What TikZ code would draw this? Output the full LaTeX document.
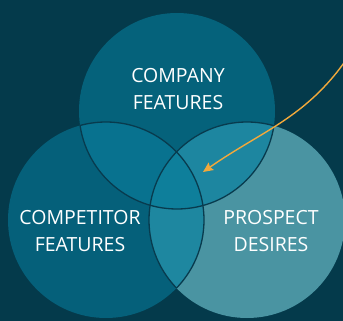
\documentclass[tikz,border=0pt]{standalone}
\usepackage{fontspec}
\setmainfont{Open Sans}
\usetikzlibrary{arrows.meta}

\definecolor{bgcol}{HTML}{043A4B}
\definecolor{compcol}{HTML}{05627B}
\definecolor{rivalcol}{HTML}{05607A}
\definecolor{prospcol}{HTML}{4A94A2}
\definecolor{comprival}{HTML}{08728F}
\definecolor{compprosp}{HTML}{1D86A0}
\definecolor{rivalprosp}{HTML}{1E87A0}
\definecolor{allthree}{HTML}{0E7F9B}
\definecolor{rimcol}{HTML}{083B4E}
\definecolor{arrowcol}{HTML}{F2A93B}

\begin{document}
\begin{tikzpicture}[x=1pt, y=-1pt,
    label/.style={text=white, font=\fontsize{19.5}{26.5}\selectfont, align=center},
    rim/.style={draw=rimcol, line width=1.3pt}]
  % Background
  \fill[bgcol] (0,0) rectangle (343,321);
  \useasboundingbox (0,0) rectangle (343,321);

  % Circle centres
  \coordinate (comp) at (177,111);
  \coordinate (rival) at (106,220);
  \coordinate (prosp) at (247,220);

  % Circles
  \fill[compcol] (comp) circle (98);
  \fill[rivalcol] (rival) circle (98);
  \fill[prospcol] (prosp) circle (98);

  % Overlaps
  \begin{scope}
    \clip (comp) circle (98);
    \fill[comprival] (rival) circle (98);
    \fill[compprosp] (prosp) circle (98);
  \end{scope}
  \begin{scope}
    \clip (rival) circle (98);
    \fill[rivalprosp] (prosp) circle (98);
    \clip (prosp) circle (98);
    \fill[allthree] (comp) circle (98);
  \end{scope}

  % Rims, only where circles overlap
  \begin{scope}
    \clip (rival) circle (98) (prosp) circle (98);
    \draw[rim] (comp) circle (98);
  \end{scope}
  \begin{scope}
    \clip (comp) circle (98) (prosp) circle (98);
    \draw[rim] (rival) circle (98);
  \end{scope}
  \begin{scope}
    \clip (comp) circle (98) (rival) circle (98);
    \draw[rim] (prosp) circle (98);
  \end{scope}

  % Labels
  \node[label] (complabel) at (178,89) {COMPANY\\FEATURES};
  \node[label] (rivallabel) at (80,231) {COMPETITOR\\FEATURES};
  \node[label] (prosplabel) at (271,231) {PROSPECT\\DESIRES};

  % Pointer
  \coordinate (arrowstart) at (346,60);
  \coordinate (arrowtip) at (203,172);
  \draw[arrowcol, line width=1.4pt, -{Stealth[length=10pt, width=9pt, inset=1.5pt]}]
    (arrowstart) to[out=235, in=35] (arrowtip);
\end{tikzpicture}
\end{document}
